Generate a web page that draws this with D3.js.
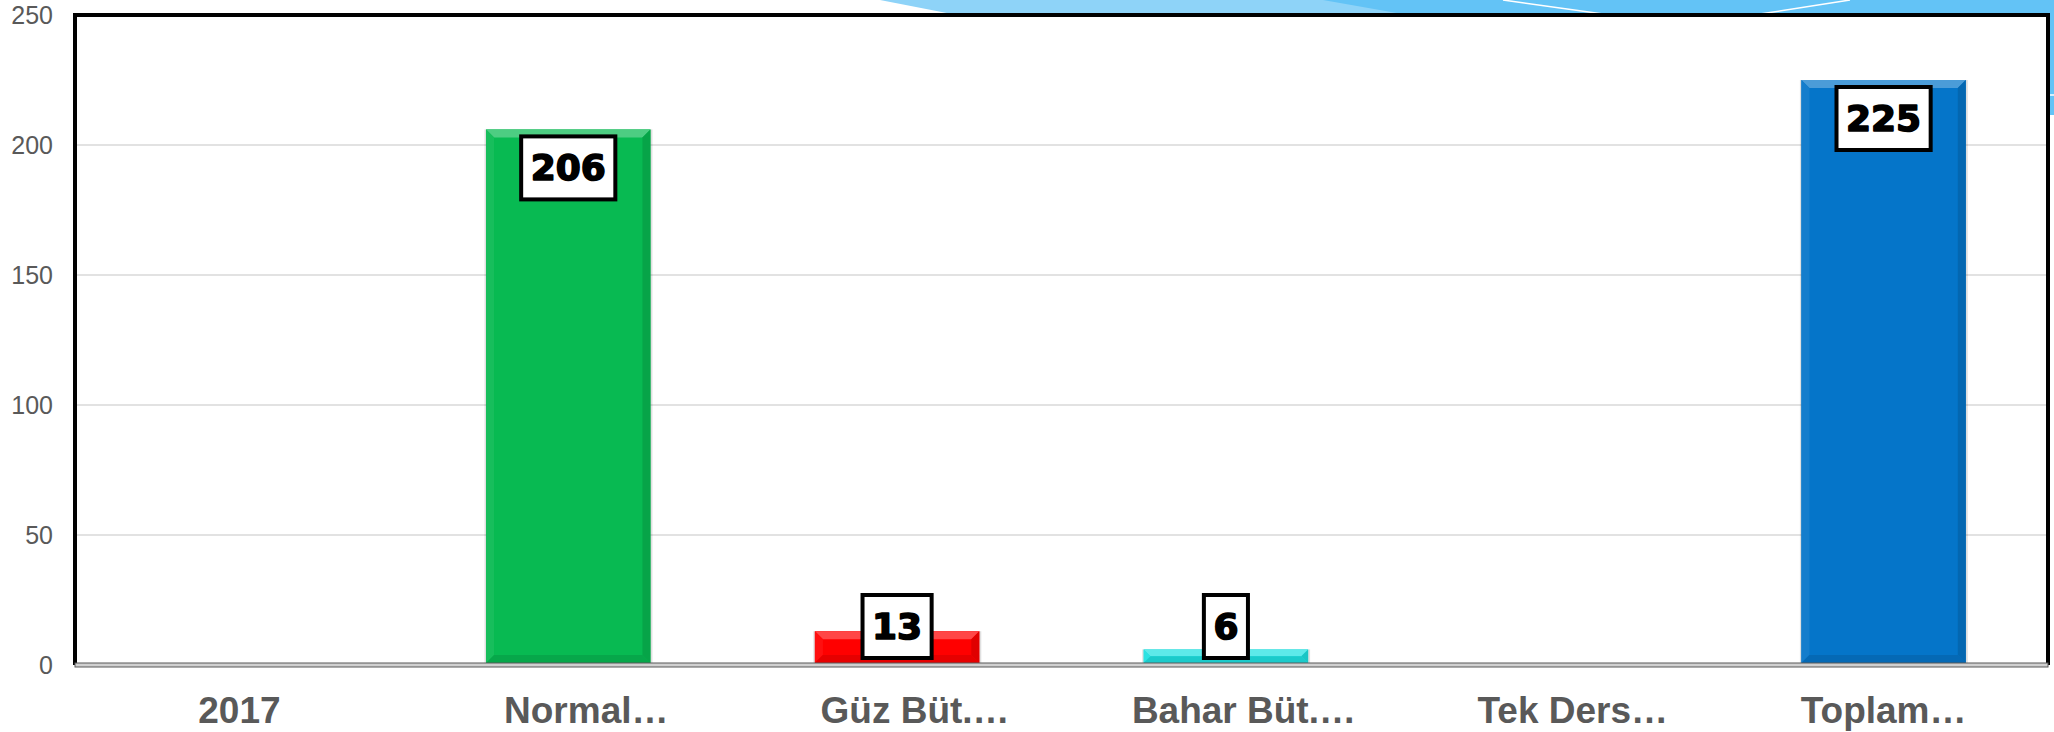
<!DOCTYPE html>
<html>
<head>
<meta charset="utf-8">
<script src="https://cdn.jsdelivr.net/npm/d3@7"></script>
<style>
  html, body { margin: 0; padding: 0; background: #ffffff; }
  svg { display: block; }
</style>
</head>
<body>
<svg id="chart" width="2054" height="732"></svg>
<script>
// ---- data ----
const categories = ["2017", "Normal…", "Güz Büt.…", "Bahar Büt.…", "Tek Ders…", "Toplam…"];
const values = [0, 206, 13, 6, 0, 225];
const barColors = ["#08BA52", "#08BA52", "#FF0000", "#1EE0E0", "#08BA52", "#0575C9"];
const yTicks = [0, 50, 100, 150, 200, 250];

// ---- layout ----
const plotL = 75, plotR = 2048, plotT = 15, plotB = 665;

const svg = d3.select("#chart");

const x = d3.scaleBand().domain(categories).range([plotL, plotR]).paddingInner(0.5).paddingOuter(0.25);
const y = d3.scaleLinear().domain([0, 250]).range([plotB, plotT]);

// ---- background decoration (theme) ----
const deco = svg.append("g");
deco.append("polygon").attr("points", "880,0 2054,0 2054,15 957,15").attr("fill", "#8ED3F8");
deco.append("polygon").attr("points", "1323,0 2054,0 2054,15 1408,15").attr("fill", "#63C3F6");
deco.append("rect").attr("x", 2048).attr("y", 0).attr("width", 6).attr("height", 115).attr("fill", "#63C3F6");
deco.append("line").attr("x1", 1503).attr("y1", 0).attr("x2", 1603).attr("y2", 14).attr("stroke", "#ffffff").attr("stroke-width", 1.5);
deco.append("line").attr("x1", 1760).attr("y1", 14).attr("x2", 1850).attr("y2", 0).attr("stroke", "#ffffff").attr("stroke-width", 1.5);
deco.append("line").attr("x1", 2048).attr("y1", 95).attr("x2", 2054).attr("y2", 95).attr("stroke", "#ffffff").attr("stroke-width", 1.5);

// white plot area
svg.append("rect").attr("x", plotL).attr("y", plotT).attr("width", plotR - plotL).attr("height", plotB - plotT).attr("fill", "#ffffff");

// ---- gridlines ----
svg.append("g").selectAll("line").data(yTicks.filter(d => d > 0 && d < 250)).join("line")
  .attr("x1", plotL + 2).attr("x2", plotR - 2)
  .attr("y1", d => y(d)).attr("y2", d => y(d))
  .attr("stroke", "#D9D9D9").attr("stroke-width", 1.5);

// ---- y axis labels ----
const yAxis = d3.axisLeft(y).tickValues(yTicks).tickSize(0).tickPadding(22);
const gy = svg.append("g").attr("transform", `translate(${plotL},0)`).call(yAxis);
gy.select(".domain").remove();
gy.selectAll("text").attr("font-family", "'Liberation Sans', Arial, sans-serif")
  .attr("font-size", 25).attr("fill", "#595959");

// ---- bars with bevel ----
function shade(c, k) { return d3.interpolateRgb(c, k > 0 ? "#ffffff" : "#000000")(Math.abs(k)); }
const bw = x.bandwidth();
const bars = svg.append("g");
values.forEach((v, i) => {
  if (v <= 0) return;
  const c = barColors[i];
  const x0 = x(categories[i]), x1 = x0 + bw;
  const y0 = y(v), y1 = y(0) - 2;
  const b = Math.min(8, (y1 - y0) / 2);
  const g = bars.append("g");
  g.append("rect").attr("x", x0 - 1.5).attr("y", y0).attr("width", bw + 3.5).attr("height", y1 - y0 + 1)
    .attr("fill", "#000").attr("opacity", 0.12);
  g.append("rect").attr("x", x0).attr("y", y0).attr("width", bw).attr("height", y1 - y0).attr("fill", c);
  g.append("polygon").attr("points", `${x0},${y0} ${x1},${y0} ${x1 - b},${y0 + b} ${x0 + b},${y0 + b}`).attr("fill", shade(c, 0.28));
  g.append("polygon").attr("points", `${x0},${y0} ${x0 + b},${y0 + b} ${x0 + b},${y1 - b} ${x0},${y1}`).attr("fill", shade(c, 0.06));
  g.append("polygon").attr("points", `${x1},${y0} ${x1},${y1} ${x1 - b},${y1 - b} ${x1 - b},${y0 + b}`).attr("fill", shade(c, -0.12));
  g.append("polygon").attr("points", `${x0},${y1} ${x1},${y1} ${x1 - b},${y1 - b} ${x0 + b},${y1 - b}`).attr("fill", shade(c, -0.1));
});

// ---- frame ----
svg.append("path")
  .attr("d", `M${plotL},${plotB} L${plotL},${plotT} L${plotR},${plotT} L${plotR},${plotB}`)
  .attr("fill", "none").attr("stroke", "#000").attr("stroke-width", 4);
svg.append("rect").attr("x", plotL).attr("y", plotB - 2).attr("width", plotR - plotL).attr("height", 4)
  .attr("fill", "#D0D0D0").attr("stroke", "#595959").attr("stroke-width", 1);

// ---- value labels ----
const labels = svg.append("g");
const boxH = 63;
values.forEach((v, i) => {
  if (v <= 0) return;
  const cx = x(categories[i]) + bw / 2;
  const boxTop = Math.min(y(v) + 7, y(0) - 7 - boxH);
  const g = labels.append("g");
  const rect = g.append("rect");
  const t = g.append("text").text(v)
    .attr("x", cx).attr("y", boxTop + boxH / 2)
    .attr("text-anchor", "middle").attr("dominant-baseline", "central")
    .attr("font-family", "'DejaVu Sans', sans-serif").attr("font-weight", "bold")
    .attr("font-size", 36).attr("fill", "#000").attr("stroke", "#000").attr("stroke-width", 1.6)
    .attr("stroke-linejoin", "round");
  const tw = t.node().getComputedTextLength();
  const w = tw + 19;
  rect.attr("x", cx - w / 2).attr("y", boxTop).attr("width", w).attr("height", boxH)
    .attr("fill", "#fff").attr("stroke", "#000").attr("stroke-width", 4);
});

// ---- x axis labels ----
const xAxis = d3.axisBottom(x).tickSize(0).tickPadding(0);
const gx = svg.append("g").attr("transform", `translate(0,${plotB})`).call(xAxis);
gx.select(".domain").remove();
gx.selectAll("text")
  .attr("y", 58).attr("dy", null)
  .attr("dx", (d, i) => (i > 0 && i < categories.length - 1) ? 18 : 0)
  .attr("font-family", "'Liberation Sans', Arial, sans-serif").attr("font-weight", "bold")
  .attr("font-size", 37).attr("fill", "#595959");
</script>
</body>
</html>
